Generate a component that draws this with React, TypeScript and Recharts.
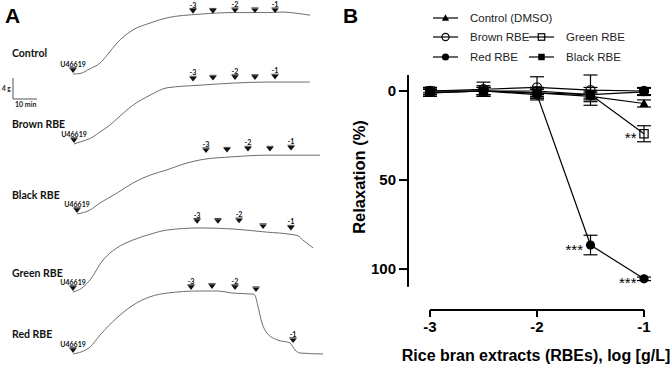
import React from 'react';
import { ComposedChart, Line, Scatter, XAxis, YAxis, ReferenceLine, ErrorBar, LabelList } from 'recharts';

// ---------------- Panel A data: tension traces (time in min after U46619, tension in g above baseline) ----------------
const controlTime = [0, 2.9, 7.1, 11.3, 14.6, 18.3, 25, 32.1, 39.2, 52.9, 66.7, 80.8, 87.5, 92.5, 98.8];
const controlTension = [0, 0.1, 1.0, 2.1, 3.8, 5.9, 8.4, 9.7, 10.7, 11.4, 11.7, 11.7, 11.8, 11.6, 11.2];
const controlDoseTime = [50, 58.3, 67.5, 75.8, 84.2];
const controlDoseLevel = [11.5, 11.5, 11.6, 11.6, 11.6];

const brownTime = [0, 3.75, 7.9, 10.8, 15, 17.9, 24.6, 31.7, 38.75, 52.5, 66.25, 80.4, 98.3];
const brownTension = [0, 0.57, 1.33, 2.29, 3.6, 4.8, 7.4, 9.3, 10.7, 11.2, 11.6, 11.8, 11.8];
const brownDoseTime = [49.6, 57.9, 67.1, 75.4, 83.75];
const brownDoseLevel = [11.9, 12.1, 12.2, 12.2, 12.3];

const blackTime = [0, 5.4, 9.6, 16.7, 23.3, 30.4, 37.5, 44.2, 51.25, 65, 79.2, 101.25];
const blackTension = [0, 0.76, 2.1, 4.0, 5.9, 7.4, 8.4, 9.5, 10.3, 10.9, 11.2, 11.2];
const blackDoseTime = [53.75, 62.5, 71.25, 80.4, 89.2];
const blackDoseLevel = [11.6, 11.7, 11.9, 11.9, 12.1];

const greenTime = [0, 3.75, 7.1, 12.5, 18.3, 25, 32.1, 39.2, 52.9, 66.7, 80.8, 90.4, 93.75, 95.8, 100];
const greenTension = [0, 0.76, 2.3, 6.1, 8.4, 9.9, 11.0, 11.8, 12.2, 12.0, 11.4, 11.0, 10.7, 9.9, 8.4];
const greenDoseTime = [51.7, 60.4, 69.2, 79.2, 90.8];
const greenDoseLevel = [13.0, 13.0, 13.1, 12.0, 11.7];

const redTime = [0, 7.1, 11.25, 18.3, 25, 32.1, 39.2, 52.9, 60, 66.7, 75, 75.8, 77.1, 78.75, 80.8, 85, 90.4, 92.5, 94.6, 104.2];
const redTension = [0, 1.33, 3.6, 6.9, 9.3, 10.9, 11.6, 12.0, 12.0, 11.6, 11.4, 11.2, 9.0, 5.9, 4.0, 2.7, 2.1, 0.76, 0.19, 0];
const redDoseTime = [49.2, 57.9, 67.5, 76.25, 91.7];
const redDoseLevel = [12.2, 12.4, 12.2, 11.8, 2.1];

const doseLabels = ['-3', '', '-2', '', '-1'];
const agonistLabel = 'U46619';
const agonistLevel = 0.2;
const scaleBarMinutes = 10;
const scaleBarGrams = 4;

// ---------------- Panel B data ----------------
const logDose = [-3, -2.5, -2, -1.5, -1];
const xTicks = [-3, -2, -1];
const yTicks = [0, 50, 100];

const controlMean = [1, 0, 1, 3, 7];
const controlSem = [2, 2, 2, 2, 2];
const brownMean = [0, -1, -2, -0.5, 0];
const brownSem = [2, 4, 6, 8.5, 2];
const greenMean = [0, 0, 0, 2, 24];
const greenSem = [1, 2, 2, 2, 4.5];
const redMean = [0, 0, 2, 86.5, 105.5];
const redSem = [2, 2, 3, 5.5, 1];
const blackMean = [1, 0, 1, 2, 0.5];
const blackSem = [2, 3, 3, 4, 2];
const redSig = ['', '', '', '***', '***'];
const greenSig = ['', '', '', '', '**'];

const rows = logDose.map((x, i) => ({
  x,
  control: controlMean[i], controlErr: controlSem[i],
  brown: brownMean[i], brownErr: brownSem[i],
  green: greenMean[i], greenErr: greenSem[i], greenSig: greenSig[i],
  red: redMean[i], redErr: redSem[i], redSig: redSig[i],
  black: blackMean[i], blackErr: blackSem[i],
}));

// ---------------- layout ----------------
const ARIAL = '"Liberation Sans", Arial, Helvetica, sans-serif';
const LATO = 'Lato, "Open Sans", sans-serif';

const PX_PER_MIN = 2.4;
const PX_PER_G = 5.25;
const TW = 340;
const TH = 140;
const ORIGIN_X = 73;
const ORIGIN_Y = 105;
const T_MIN = -ORIGIN_X / PX_PER_MIN;
const T_MAX = T_MIN + TW / PX_PER_MIN;
const G_MAX = ORIGIN_Y / PX_PER_G;
const G_MIN = G_MAX - TH / PX_PER_G;

const traces = [
  { name: 'Control', t: controlTime, g: controlTension, dt: controlDoseTime, dg: controlDoseLevel, x0: 73, y0: 74, labelY: 57, scale: true },
  { name: 'Brown RBE', t: brownTime, g: brownTension, dt: brownDoseTime, dg: brownDoseLevel, x0: 74, y0: 144, labelY: 128 },
  { name: 'Black RBE', t: blackTime, g: blackTension, dt: blackDoseTime, dg: blackDoseLevel, x0: 77, y0: 214, labelY: 199 },
  { name: 'Green RBE', t: greenTime, g: greenTension, dt: greenDoseTime, dg: greenDoseLevel, x0: 73, y0: 292, labelY: 277 },
  { name: 'Red RBE', t: redTime, g: redTension, dt: redDoseTime, dg: redDoseLevel, x0: 73, y0: 354, labelY: 338 },
];

const ArrowShape = (props: any) => {
  const { cx, cy, payload } = props;
  if (cx == null || cy == null) return <g />;
  const isAgonist = payload.label === agonistLabel;
  return (
    <g>
      <polygon points={`${cx - 3.6},${cy - 4.6} ${cx + 3.6},${cy - 4.6} ${cx},${cy}`} fill="#111" />
      <line x1={cx - 3.6} x2={cx + 3.6} y1={cy - 5.2} y2={cy - 5.2} stroke="#111" strokeWidth={0.8} />
      {payload.label ? (
        <text x={cx} y={cy - 6.1} textAnchor="middle" fontSize={isAgonist ? 7 : 7.2} fontWeight={700} fontFamily={LATO} fill="#111">
          {payload.label}
        </text>
      ) : null}
    </g>
  );
};

function TraceChart({ tr }: { tr: any }) {
  const trace = tr.t.map((t: number, i: number) => ({ t, g: tr.g[i] }));
  const arrows = [
    { t: 0, g: agonistLevel, label: agonistLabel },
    ...tr.dt.map((t: number, i: number) => ({ t, g: tr.dg[i], label: doseLabels[i] })),
  ];
  const sbT = -25;
  const sbG = -4.76;
  return (
    <div style={{ position: 'absolute', left: tr.x0 - ORIGIN_X, top: tr.y0 - ORIGIN_Y, width: TW, height: TH }}>
      <ComposedChart width={TW} height={TH} margin={{ top: 0, right: 0, bottom: 0, left: 0 }}>
        <XAxis type="number" dataKey="t" domain={[T_MIN, T_MAX]} hide allowDataOverflow />
        <YAxis type="number" domain={[G_MIN, G_MAX]} hide allowDataOverflow />
        <Line data={trace} dataKey="g" type="monotone" stroke="#6e6e6e" strokeWidth={1} dot={false} activeDot={false} isAnimationActive={false} />
        <Scatter data={arrows} dataKey="g" shape={ArrowShape} isAnimationActive={false} />
        {tr.scale ? (
          <ReferenceLine segment={[{ x: sbT, y: sbG }, { x: sbT + scaleBarMinutes, y: sbG }]} stroke="#555" strokeWidth={1} ifOverflow="visible" />
        ) : null}
        {tr.scale ? (
          <ReferenceLine segment={[{ x: sbT, y: sbG }, { x: sbT, y: sbG + scaleBarGrams }]} stroke="#555" strokeWidth={1} ifOverflow="visible" />
        ) : null}
      </ComposedChart>
    </div>
  );
}

// ---------------- markers ----------------
function Marker({ shape, cx, cy, s }: { shape: string; cx: number; cy: number; s: number }) {
  if (cx == null || cy == null) return <g />;
  switch (shape) {
    case 'triangle':
      return <polygon points={`${cx},${cy - s * 1.05} ${cx + s},${cy + s * 0.75} ${cx - s},${cy + s * 0.75}`} fill="#000" />;
    case 'circleOpen':
      return <circle cx={cx} cy={cy} r={s} fill="none" stroke="#000" strokeWidth={1.2} />;
    case 'circle':
      return <circle cx={cx} cy={cy} r={s} fill="#000" />;
    case 'squareOpen':
      return <rect x={cx - s * 0.9} y={cy - s * 0.9} width={s * 1.8} height={s * 1.8} fill="none" stroke="#000" strokeWidth={1.2} />;
    default:
      return <rect x={cx - s * 0.9} y={cy - s * 0.9} width={s * 1.8} height={s * 1.8} fill="#000" />;
  }
}

const series = [
  { key: 'control', name: 'Control (DMSO)', shape: 'triangle' },
  { key: 'brown', name: 'Brown RBE', shape: 'circleOpen' },
  { key: 'green', name: 'Green RBE', shape: 'squareOpen' },
  { key: 'red', name: 'Red RBE', shape: 'circle' },
  { key: 'black', name: 'Black RBE', shape: 'square' },
];

const legendLayout: Record<string, { x: number; y: number }> = {
  control: { x: 433, y: 18 },
  brown: { x: 433, y: 37 },
  red: { x: 433, y: 57 },
  green: { x: 529, y: 37 },
  black: { x: 529, y: 57 },
};

const renderStars = (p: any) => {
  if (!p.value) return null;
  return (
    <text x={p.x - 7.5} y={p.y + 9.5} textAnchor="end" fontSize={15} fontFamily={ARIAL} fill="#000">
      {p.value}
    </text>
  );
};

// Panel B geometry
const B_W = 331;
const B_H = 367;
const X_MIN = -3 - 22 / 107;
const X_MAX = -1 + 16 / 107;
const Y_MIN = -9;
const Y_MAX = 123;
const Y_AXIS_END = 110;

const tickStyle = { fill: '#000', fontSize: 15, fontWeight: 700, fontFamily: ARIAL };

export default function App() {
  return (
    <div style={{ position: 'absolute', left: 0, top: 0, width: 671, height: 367, overflow: 'hidden', background: '#fff' }}>
      {traces.map((tr) => (
        <TraceChart key={tr.name} tr={tr} />
      ))}

      <div style={{ position: 'absolute', left: 340, top: 0, width: B_W, height: B_H }}>
        <ComposedChart width={B_W} height={B_H} data={rows} margin={{ top: 75, right: 11, bottom: 0, left: 0 }}>
          <XAxis
            type="number"
            dataKey="x"
            domain={[X_MIN, X_MAX]}
            ticks={xTicks}
            interval={0}
            allowDataOverflow
            axisLine={false}
            tickLine={{ stroke: '#000', strokeWidth: 2 }}
            tickSize={7}
            tickMargin={4}
            height={57}
            tick={tickStyle}
          />
          <YAxis
            type="number"
            reversed
            domain={[Y_MIN, Y_MAX]}
            ticks={yTicks}
            interval={0}
            allowDataOverflow
            width={68}
            axisLine={false}
            tickLine={{ stroke: '#000', strokeWidth: 2 }}
            tickSize={9}
            tickMargin={3}
            tick={tickStyle}
          />
          <ReferenceLine segment={[{ x: X_MIN, y: Y_MIN }, { x: X_MIN, y: Y_AXIS_END }]} stroke="#000" strokeWidth={2} ifOverflow="visible" />
          <ReferenceLine segment={[{ x: xTicks[0], y: Y_MAX }, { x: xTicks[xTicks.length - 1], y: Y_MAX }]} stroke="#000" strokeWidth={2} ifOverflow="visible" />
          {series.map((s) => (
            <Line
              key={s.key}
              dataKey={s.key}
              type="linear"
              stroke="#000"
              strokeWidth={1.2}
              isAnimationActive={false}
              activeDot={false}
              dot={(p: any) => <Marker key={`${s.key}-${p.index}`} shape={s.shape} cx={p.cx} cy={p.cy} s={4.6} />}
            >
              <ErrorBar dataKey={`${s.key}Err`} width={7} stroke="#000" strokeWidth={1.2} />
              {s.key === 'red' ? <LabelList dataKey="redSig" content={renderStars} /> : null}
              {s.key === 'green' ? <LabelList dataKey="greenSig" content={renderStars} /> : null}
            </Line>
          ))}
        </ComposedChart>
      </div>

      <svg width={671} height={367} style={{ position: 'absolute', left: 0, top: 0, pointerEvents: 'none' }}>
        <text x={5} y={23} fontSize={21} fontWeight={700} fontFamily={ARIAL} fill="#000">A</text>
        <text x={343} y={23} fontSize={21} fontWeight={700} fontFamily={ARIAL} fill="#000">B</text>
        {traces.map((tr) => (
          <text key={tr.name} x={12} y={tr.labelY} fontSize={10.5} fontWeight={700} fontFamily={LATO} fill="#111">
            {tr.name}
          </text>
        ))}
        <text x={2} y={91} fontSize={6.5} fontWeight={700} fontFamily={LATO} fill="#222">4 g</text>
        <text x={15} y={107} fontSize={7} fontWeight={700} fontFamily={LATO} fill="#222">10 min</text>

        {series.map((s) => {
          const L = legendLayout[s.key];
          return (
            <g key={s.key}>
              <line x1={L.x} x2={L.x + 25} y1={L.y} y2={L.y} stroke="#000" strokeWidth={1.2} />
              <Marker shape={s.shape} cx={L.x + 12.5} cy={L.y} s={3.6} />
              <text x={L.x + 37} y={L.y + 4.2} fontSize={11.5} fontFamily={ARIAL} fill="#222">
                {s.name}
              </text>
            </g>
          );
        })}

        <text x={365} y={177} transform="rotate(-90 365 177)" textAnchor="middle" fontSize={16.5} fontWeight={700} fontFamily={ARIAL} fill="#000">
          Relaxation (%)
        </text>
        <text x={536} y={361} textAnchor="middle" fontSize={16} fontWeight={700} fontFamily={ARIAL} fill="#000">
          Rice bran extracts (RBEs), log [g/L]
        </text>
      </svg>
    </div>
  );
}
